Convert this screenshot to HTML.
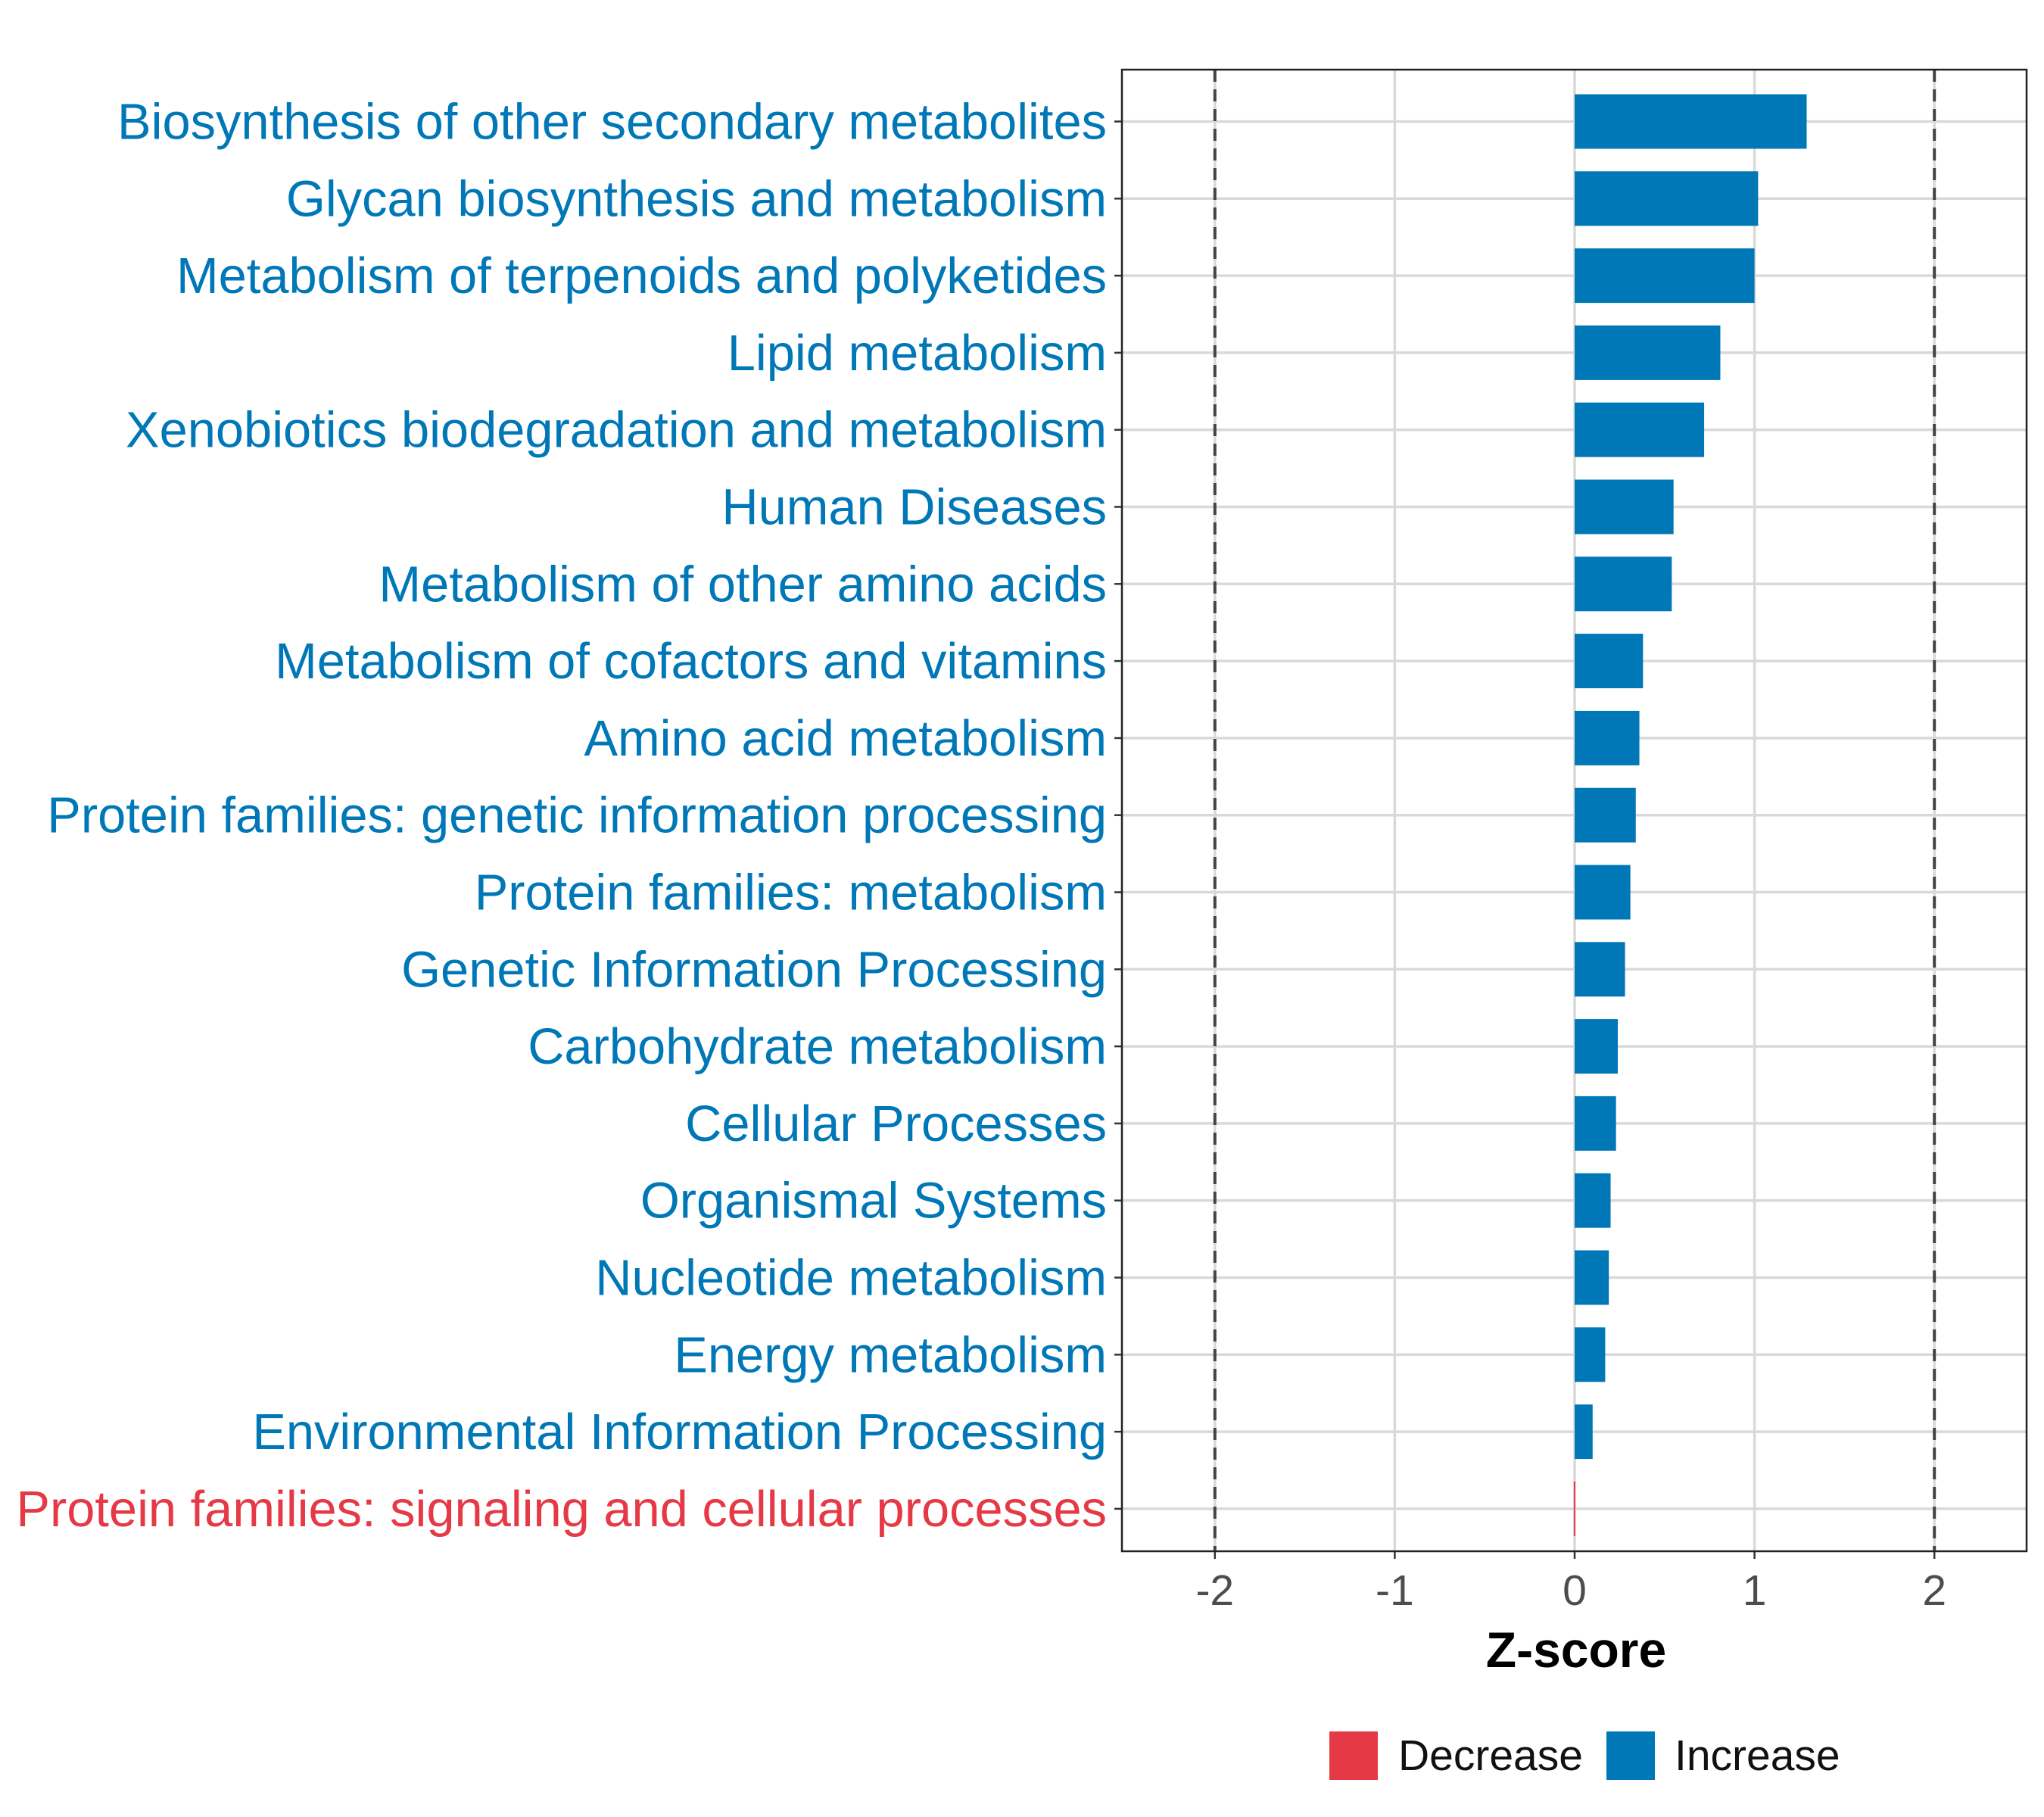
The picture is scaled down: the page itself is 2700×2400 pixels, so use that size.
<!DOCTYPE html>
<html><head><meta charset="utf-8"><style>
html,body{margin:0;padding:0;background:#fff}
svg{display:block;font-family:"Liberation Sans",Arial,sans-serif}
</style></head><body>
<svg id="chart" width="2700" height="2400" viewBox="0 0 2700 2400" xmlns="http://www.w3.org/2000/svg">
<rect width="2700" height="2400" fill="#fff"/>
<g id="grid"></g><g id="bars"></g><g id="labels"></g><g id="ticks"></g>
<rect x="1482" y="92" width="1195" height="1957" fill="none" stroke="#222" stroke-width="2.5"/>
<text x="2082" y="2202" font-size="66" font-weight="bold" text-anchor="middle" fill="#000">Z-score</text>
<rect x="1756" y="2287" width="64" height="64" fill="#E63946"/>
<text x="1847" y="2338" font-size="57" fill="#111">Decrease</text>
<rect x="2122" y="2287" width="64" height="64" fill="#0077B6"/>
<text x="2212" y="2338" font-size="57" fill="#111">Increase</text>
</svg>
<script>
const categories=["Biosynthesis of other secondary metabolites","Glycan biosynthesis and metabolism","Metabolism of terpenoids and polyketides","Lipid metabolism","Xenobiotics biodegradation and metabolism","Human Diseases","Metabolism of other amino acids","Metabolism of cofactors and vitamins","Amino acid metabolism","Protein families: genetic information processing","Protein families: metabolism","Genetic Information Processing","Carbohydrate metabolism","Cellular Processes","Organismal Systems","Nucleotide metabolism","Energy metabolism","Environmental Information Processing","Protein families: signaling and cellular processes"];
const values=[1.29,1.02,1.0,0.81,0.72,0.55,0.54,0.38,0.36,0.34,0.31,0.28,0.24,0.23,0.20,0.19,0.17,0.10,-0.005];
const xTicks=[-2,-1,0,1,2];
const xTickLabels=["-2","-1","0","1","2"];
const NS="http://www.w3.org/2000/svg";
const X0=2080,UNIT=237.6,Y0=160.5,STEP=101.8,PL=1482,PR=2677,PT=92,PB=2049;
const xs=v=>X0+v*UNIT, ys=i=>Y0+i*STEP;
function mk(t,a,p){const e=document.createElementNS(NS,t);for(const k in a)e.setAttribute(k,a[k]);document.getElementById(p).appendChild(e);return e;}
xTicks.forEach((t,i)=>{
 const g=mk('line',{x1:xs(t),x2:xs(t),y1:PT,y2:PB,stroke:'#d9d9d9','stroke-width':3.5},'grid');
 
 
 const tk=mk('line',{x1:xs(t),x2:xs(t),y1:PB,y2:PB+10,stroke:'#333','stroke-width':2.5},'ticks');
 
 
 const tl=mk('text',{x:xs(t),y:PB+71,'font-size':57,'text-anchor':'middle',fill:'#4d4d4d'},'ticks');
 tl.textContent=xTickLabels[i];
 
 
});
categories.forEach((c,i)=>{
 const y=ys(i);
 const g=mk('line',{x1:PL,x2:PR,y1:y,y2:y,stroke:'#d9d9d9','stroke-width':3.5},'grid');
 
 
 const tk=mk('line',{x1:PL-10,x2:PL,y1:y,y2:y,stroke:'#333','stroke-width':2.5},'ticks');
 
 
});
[-2,2].forEach(t=>{
 const d=mk('line',{x1:xs(t),x2:xs(t),y1:PT,y2:PB,stroke:'#444','stroke-width':4,'stroke-dasharray':'16 10'},'grid');
 
 
});
categories.forEach((c,i)=>{
 const v=values[i],y=ys(i),col=v<0?'#E63946':'#0077B6';
 const x1=xs(Math.min(0,v)),w=Math.max(Math.abs(xs(v)-xs(0)),2);
 const b=mk('rect',{x:x1,y:y-36,width:w,height:72,fill:col},'bars');
 
 
 const l=mk('text',{x:1462,y:y+23,'font-size':66.8,'text-anchor':'end',fill:col},'labels');
 l.textContent=c;
 
 
});
</script>
</body></html>
